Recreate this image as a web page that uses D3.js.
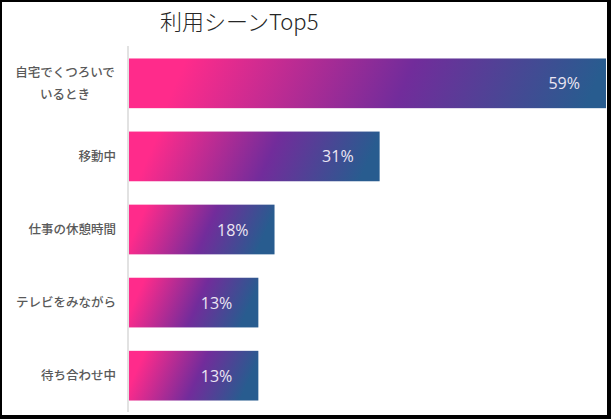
<!DOCTYPE html>
<html>
<head>
<meta charset="utf-8">
<script src="https://cdn.jsdelivr.net/npm/d3@7"></script>
<style>
  html, body { margin: 0; padding: 0; background: #fff; }
  svg { display: block; }
</style>
</head>
<body>
<svg id="chart" width="611" height="419"></svg>
<script>
const categories = [["自宅でくつろいで", "いるとき"], ["移動中"], ["仕事の休憩時間"], ["テレビをみながら"], ["待ち合わせ中"]];
const values = [59, 31, 18, 16, 16];
const valueLabels = ["59%", "31%", "18%", "13%", "13%"];
const title = "利用シーンTop5";

const svg = d3.select("#chart");
const W = 611, H = 419;
const idx = d3.range(values.length);

const x = d3.scaleLinear().domain([0, 59]).range([129, 606]);
const y = d3.scaleBand().domain(idx).range([47, 412]).paddingInner(0.32).paddingOuter(0.157);

const defs = svg.append("defs");
idx.forEach(i => {
  const w = x(values[i]) - x(0);
  const g = defs.append("linearGradient")
    .attr("id", "grad" + i)
    .attr("x1", 0).attr("y1", 0)
    .attr("x2", 1).attr("y2", Math.min(0.35, 22 / w));
  g.append("stop").attr("offset", 0.12).attr("stop-color", "#ff2b8b");
  g.append("stop").attr("offset", 0.6).attr("stop-color", "#722c9b");
  g.append("stop").attr("offset", 1).attr("stop-color", "#285c8f");
});

// title
svg.append("text")
  .attr("x", 160).attr("y", 30)
  .attr("font-family", "'Noto Sans CJK JP', 'Noto Sans', sans-serif")
  .attr("font-size", 22).attr("font-weight", 300)
  .attr("fill", "#262626")
  .text(title);

// axis line
svg.append("line")
  .attr("x1", 128).attr("x2", 128)
  .attr("y1", 46).attr("y2", 412)
  .attr("stroke", "#d9d9d9").attr("stroke-width", 1.5);

// bars
svg.selectAll("rect.bar").data(idx).join("rect")
  .attr("class", "bar")
  .attr("x", x(0))
  .attr("y", i => y(i))
  .attr("width", i => x(values[i]) - x(0))
  .attr("height", y.bandwidth())
  .attr("fill", i => `url(#grad${i})`);

// value labels
svg.selectAll("text.val").data(idx).join("text")
  .attr("class", "val")
  .attr("x", i => x(values[i]) - 26)
  .attr("y", i => y(i) + y.bandwidth() / 2 + 6)
  .attr("text-anchor", "end")
  .attr("font-family", "'Open Sans', 'Noto Sans', sans-serif")
  .attr("font-size", 16)
  .attr("fill", "#ece6f3")
  .text(i => valueLabels[i]);

// category labels
idx.forEach(i => {
  const lines = categories[i];
  const cy = y(i) + y.bandwidth() / 2;
  const lh = 22;
  const t = svg.append("text")
    .attr("font-family", "'Noto Sans CJK JP', sans-serif")
    .attr("font-size", 12.5).attr("font-weight", 500)
    .attr("fill", "#595959");
  if (lines.length === 1) {
    t.attr("x", 116).attr("y", cy + 4.5).attr("text-anchor", "end").text(lines[0]);
  } else {
    const n = lines.length;
    lines.forEach((ln, k) => {
      t.append("tspan")
        .attr("x", 65)
        .attr("y", cy + 4.5 + (k - (n - 1) / 2) * lh)
        .attr("text-anchor", "middle")
        .text(ln);
    });
  }
});

// frame
svg.append("path")
  .attr("d", `M0,0H${W}V${H}H0Z M2,2V${H-4}H${W-4}V2Z`)
  .attr("fill", "#000").attr("fill-rule", "evenodd");
</script>
</body>
</html>
